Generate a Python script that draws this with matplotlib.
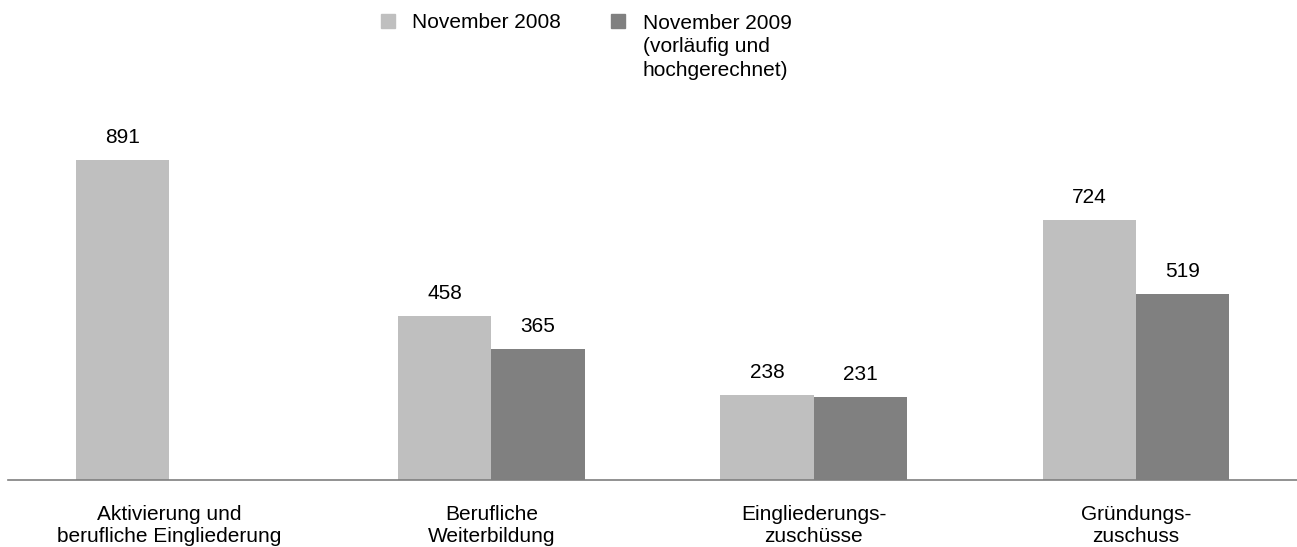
import numpy as np
import matplotlib.pyplot as plt
from matplotlib.patches import Rectangle

plt.rcParams['font.family'] = ['Liberation Sans', 'DejaVu Sans']

categories = ["Aktivierung und\nberufliche Eingliederung",
              "Berufliche\nWeiterbildung",
              "Eingliederungs-\nzuschüsse",
              "Gründungs-\nzuschuss"]
series_names = ["November 2008", "November 2009\n(vorläufig und\nhochgerechnet)"]
nov_2008 = [891, 458, 238, 724]
nov_2009 = [np.nan, 365, 231, 519]

light = '#bfbfbf'
dark = '#808080'
fs = 15

fig = plt.figure(figsize=(12.97, 5.47), dpi=100)
ax = fig.add_axes([8 / 1297, 67 / 547, 1289 / 1297, 359 / 547])

x = np.arange(len(categories))
w = 0.289
b1 = ax.bar(x - w / 2, nov_2008, w, color=light)
b2 = ax.bar(x + w / 2, nov_2009, w, color=dark)

for bars, vals in ((b1, nov_2008), (b2, nov_2009)):
    for r, v in zip(bars, vals):
        if np.isnan(v):
            continue
        ax.annotate(f"{v:.0f}", (r.get_x() + r.get_width() / 2, v),
                    xytext=(0, 12), textcoords='offset points',
                    ha='center', va='baseline', fontsize=fs)

ax.set_xlim(-0.5, 3.5)
ax.set_ylim(0, 1000)
ax.set_xticks(x)
ax.set_xticklabels(categories, fontsize=fs, linespacing=1.2)
ax.tick_params(axis='x', length=0, pad=18)
ax.set_yticks([])
for s in ('top', 'right', 'left'):
    ax.spines[s].set_visible(False)
ax.spines['bottom'].set_color('#7f7f7f')
ax.spines['bottom'].set_linewidth(1.2)

# legend drawn by hand so the marker sits on the first text line
H = 547
line_px = 23.8
for (sx, tx), col, name in zip(((381, 412), (611, 643)), (light, dark), series_names):
    fig.add_artist(Rectangle((sx / 1297, (H - 28) / H), 14 / 1297, 14 / H,
                             transform=fig.transFigure, color=col))
    # va='baseline' refers to the last line, so shift down by the extra lines
    n_extra = name.count('\n')
    fig.text(tx / 1297, (H - 28 - n_extra * line_px) / H, name, fontsize=fs,
             ha='left', va='baseline', linespacing=1.3)

fig.savefig('out.png', dpi=100)
